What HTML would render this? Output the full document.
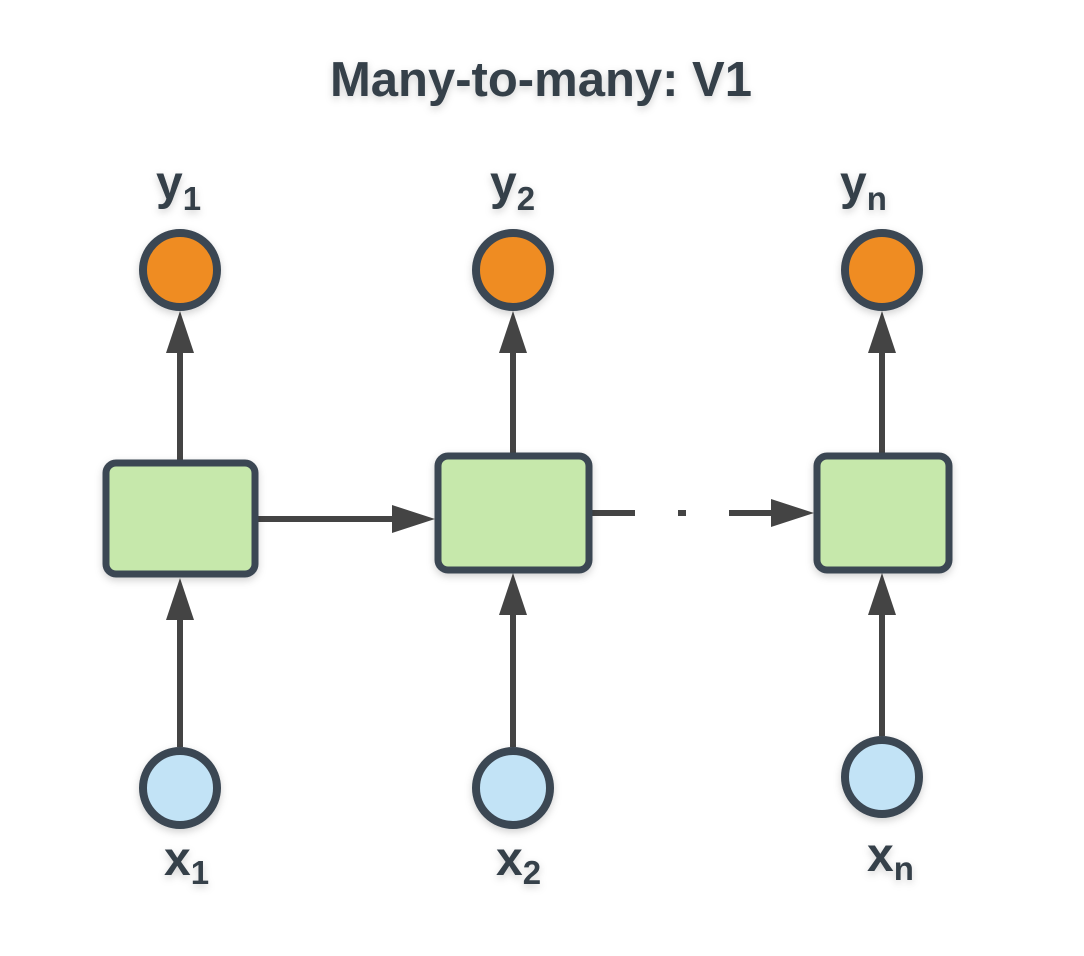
<!DOCTYPE html>
<html><head><meta charset="utf-8"><style>
html,body{margin:0;padding:0;background:#fff;}
svg{display:block;}
text{font-family:"Liberation Sans",sans-serif;font-weight:bold;fill:#36404a;}
</style></head><body>
<svg width="1084" height="956" viewBox="0 0 1084 956">
<defs>
<filter id="sh" x="-30%" y="-30%" width="160%" height="160%"><feDropShadow dx="0" dy="3" stdDeviation="4" flood-color="#000" flood-opacity="0.18"/></filter>
</defs>
<text x="541" y="96" font-size="49" text-anchor="middle" filter="url(#sh)">Many-to-many: V1</text>

<g stroke="#444" stroke-width="6" fill="#444">
<line x1="180" y1="460" x2="180" y2="350"/>
<polygon points="180,311 166,353 194,353" stroke="none"/>
<line x1="513" y1="453" x2="513" y2="350"/>
<polygon points="513,311 499,353 527,353" stroke="none"/>
<line x1="882" y1="453" x2="882" y2="350"/>
<polygon points="882,311 868,353 896,353" stroke="none"/>

<line x1="180" y1="747" x2="180" y2="615"/>
<polygon points="180,578 166,620 194,620" stroke="none"/>
<line x1="513" y1="747" x2="513" y2="610"/>
<polygon points="513,573 499,615 527,615" stroke="none"/>
<line x1="882" y1="736" x2="882" y2="610"/>
<polygon points="882,573 868,615 896,615" stroke="none"/>

<line x1="258" y1="519" x2="395" y2="519"/>
<polygon points="435,519 392,505 392,533" stroke="none"/>
<line x1="592" y1="513" x2="635" y2="513"/>
<line x1="678" y1="513" x2="686" y2="513"/>
<line x1="729" y1="513" x2="775" y2="513"/>
<polygon points="814,513 771,499 771,527" stroke="none"/>
</g>

<g stroke="#3b4652" stroke-width="7" filter="url(#sh)">
<rect x="106" y="463" width="149" height="111" rx="10" fill="#c6e8ab"/>
<rect x="438" y="456" width="151" height="114" rx="10" fill="#c6e8ab"/>
<rect x="817" y="456" width="132" height="114" rx="10" fill="#c6e8ab"/>
</g>
<g stroke="#3b4652" stroke-width="8" filter="url(#sh)">
<circle cx="180" cy="270" r="37" fill="#ef8c22"/>
<circle cx="513" cy="270" r="37" fill="#ef8c22"/>
<circle cx="882" cy="270" r="37" fill="#ef8c22"/>
<circle cx="180" cy="788" r="37" fill="#c2e3f6"/>
<circle cx="513" cy="788" r="37" fill="#c2e3f6"/>
<circle cx="882" cy="777" r="37" fill="#c2e3f6"/>
</g>

<g font-size="48" filter="url(#sh)">
<text x="156" y="199">y<tspan font-size="33" dy="11">1</tspan></text>
<text x="490" y="199">y<tspan font-size="33" dy="11">2</tspan></text>
<text x="840" y="199">y<tspan font-size="33" dy="11">n</tspan></text>
<text x="164" y="875">x<tspan font-size="33" dy="9">1</tspan></text>
<text x="496" y="875">x<tspan font-size="33" dy="9">2</tspan></text>
<text x="867" y="871">x<tspan font-size="33" dy="9">n</tspan></text>
</g>
</svg>
</body></html>
